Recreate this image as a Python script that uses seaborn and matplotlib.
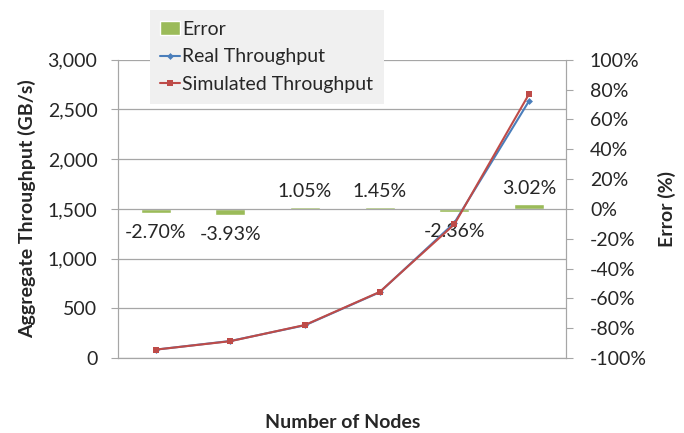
import numpy as np
import pandas as pd
import matplotlib
matplotlib.use("Agg")
import matplotlib.pyplot as plt
import seaborn as sns
from matplotlib.ticker import FuncFormatter, FixedLocator

# data
nodes = ["512", "1K", "2K", "4K", "8K", "16K"]
real_tp = [85, 172, 330, 662, 1360, 2585]
sim_tp = [85, 170, 333, 665, 1345, 2655]
error_pct = [-2.70, -3.93, 1.05, 1.45, -2.36, 3.02]

sns.set_style("white")
plt.rcParams["font.family"] = ["Lato", "DejaVu Sans"]

df = pd.DataFrame({"idx": np.arange(len(nodes)), "node": nodes,
                   "real": real_tp, "sim": sim_tp, "err": error_pct})

fig, ax = plt.subplots(figsize=(6.84, 4.33), dpi=100)
ax2 = ax.twinx()
fig.subplots_adjust(left=0.173, right=0.828, top=0.862, bottom=0.173)

grey = "#a6a6a6"
fs = 14

# error bars on right axis
sns.barplot(data=df, x="idx", y="err", ax=ax2, color="#9BBB59", width=0.4,
            saturation=1, order=list(range(len(nodes))), label="Error")
ax2.set_ylim(-100, 100)
ax2.set_xlim(-0.5, 5.5)
for i, e in enumerate(error_pct):
    if e < 0:
        ax2.text(i, e - 13, f"{e:.2f}%", ha="center", va="center", fontsize=fs)
    else:
        ax2.text(i, e + 10.5, f"{e:.2f}%", ha="center", va="center", fontsize=fs)

# throughput lines on left axis
sns.lineplot(data=df, x="idx", y="real", ax=ax, color="#4A7EBB", marker="D",
             markersize=3.5, markeredgewidth=0, linewidth=1.5, label="Real Throughput")
sns.lineplot(data=df, x="idx", y="sim", ax=ax, color="#BE4B48", marker="s",
             markersize=5, markeredgewidth=0, linewidth=1.5, label="Simulated Throughput")
ax.set_zorder(ax2.get_zorder() + 1)
ax.patch.set_visible(False)

ax.set_ylim(0, 3000)
ax.set_xlim(-0.5, 5.5)
ax.set_yticks(np.arange(0, 3001, 500))
ax.yaxis.set_major_formatter(FuncFormatter(lambda v, p: f"{int(v):,}"))
ax.grid(axis="y", color=grey, linewidth=0.9)
ax.set_axisbelow(True)

ax.set_xticks(np.arange(len(nodes)))
ax.set_xticklabels(nodes)
ax.xaxis.set_minor_locator(FixedLocator(np.arange(-0.5, 5.6, 1)))
ax.tick_params(axis="x", which="major", length=0, labelsize=fs, pad=10)
ax.tick_params(axis="x", which="minor", length=5, color=grey, direction="out")
ax.tick_params(axis="y", length=5, color=grey, labelsize=fs, direction="out", pad=10)

ax2.set_yticks(np.arange(-100, 101, 20))
ax2.yaxis.set_major_formatter(FuncFormatter(lambda v, p: f"{int(v)}%"))
ax2.tick_params(axis="y", length=5, color=grey, labelsize=fs, direction="out", pad=12)
ax2.set_xticks([])
ax2.set_xlabel("")

for a in (ax, ax2):
    for s in a.spines.values():
        s.set_color(grey)
    a.spines["top"].set_visible(False)

ax.set_xlabel("Number of Nodes", fontsize=fs, fontweight="bold", labelpad=32)
ax.set_ylabel("Aggregate Throughput (GB/s)", fontsize=fs, fontweight="bold", labelpad=8)
ax2.set_ylabel("Error (%)", fontsize=fs, fontweight="bold", labelpad=8)

# combined legend
h1, l1 = ax2.get_legend_handles_labels()
h2, l2 = ax.get_legend_handles_labels()
ax.get_legend().remove()
if ax2.get_legend():
    ax2.get_legend().remove()
leg = ax.legend(h1 + h2, l1 + l2, loc="upper left", bbox_to_anchor=(0.219, 0.977),
                bbox_transform=fig.transFigure, frameon=True, fancybox=False,
                facecolor="#f0f0f0", edgecolor="none", fontsize=fs,
                handlelength=1.0, handletextpad=0.1, labelspacing=0.55,
                borderpad=0.55, borderaxespad=0, framealpha=1)

fig.savefig("out.png", dpi=100)
